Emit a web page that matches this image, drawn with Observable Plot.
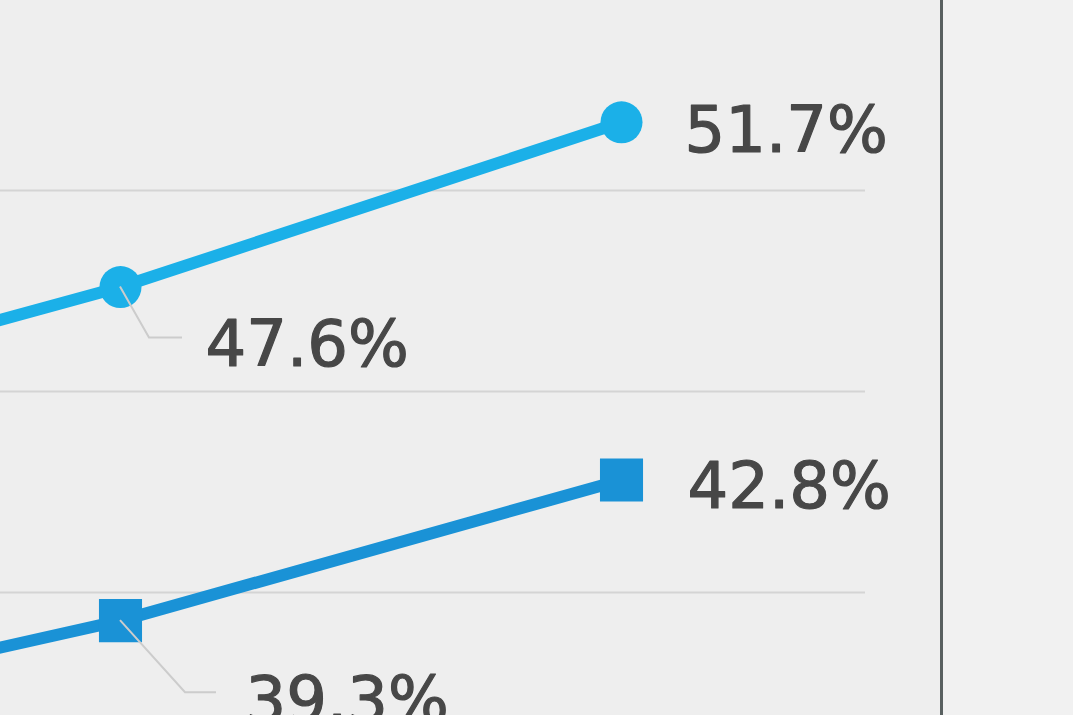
<!DOCTYPE html>
<html>
<head>
<meta charset="utf-8">
<script src="https://cdn.jsdelivr.net/npm/d3@7"></script>
<script src="https://cdn.jsdelivr.net/npm/@observablehq/plot@0.6"></script>
<style>
  html, body { margin: 0; padding: 0; overflow: hidden; background: #eeeeee; }
  #wrap { display: flex; width: 1073px; height: 715px; }
  #chart svg { display: block; overflow: hidden; }
  #side { flex: 1; height: 715px; background: #f1f1f1; border-left: 3px solid #596060; box-sizing: border-box; }
</style>
</head>
<body>
<div id="wrap"><div id="chart"></div><div id="side"></div></div>
<script>
// Period index (period 0 lies off the left edge of the photo; value estimated from the line slope)
const periods = [0, 1, 2];
const circleValues = [44.2, 47.6, 51.7];
const squareValues = [36.5, 39.3, 42.8];
const gridTicks = [40, 45, 50];

const circleData = periods.map((p, i) => ({p, v: circleValues[i], label: circleValues[i].toFixed(1) + "%"}));
const squareData = periods.map((p, i) => ({p, v: squareValues[i], label: squareValues[i].toFixed(1) + "%"}));

const cCircle = "#1bb0e8";
const cSquare = "#1a92d6";
const textColor = "#474747";
const font = "DejaVu Sans";

// Leader lines drawn in pixel space from the labelled point
function leader(datum, elbow, end) {
  return (index, scales) => {
    const x = scales.x(datum.p), y = scales.y(datum.v);
    const g = d3.create("svg:path")
      .attr("d", `M${x},${y}L${x + elbow[0]},${y + elbow[1]}L${x + end[0]},${y + end[1]}`)
      .attr("fill", "none")
      .attr("stroke", "#cccccc")
      .attr("stroke-width", 2);
    return g.node();
  };
}

const textOpts = {x: "p", y: "v", text: "label", textAnchor: "start", lineAnchor: "bottom",
  fontSize: 64, fontFamily: font, fill: textColor, stroke: textColor, strokeWidth: 1.2};

const plot = Plot.plot({
  width: 940,
  height: 715,
  marginLeft: 0, marginRight: 0, marginTop: 0, marginBottom: 0,
  style: {background: "#eeeeee", overflow: "hidden"},
  x: {type: "linear", domain: [0.7605, 2.6367], axis: null},
  y: {domain: [36.94, 54.73], axis: null},
  marks: [
    Plot.ruleY(gridTicks, {x1: 0.7605, x2: 2.487, stroke: "#d4d4d4", strokeWidth: 2}),
    Plot.line(circleData, {x: "p", y: "v", stroke: cCircle, strokeWidth: 12}),
    Plot.line(squareData, {x: "p", y: "v", stroke: cSquare, strokeWidth: 12}),
    Plot.dot(circleData.slice(1), {x: "p", y: "v", r: 21, symbol: "circle", fill: cCircle}),
    Plot.dot(squareData.slice(1), {x: "p", y: "v", r: 24.3, symbol: "square", fill: cSquare}),
    leader(circleData[1], [29, 51], [62, 51]),
    leader(squareData[1], [65, 72], [96, 72]),
    Plot.text([circleData[2]], {...textOpts, dx: 63, dy: 30}),
    Plot.text([squareData[2]], {...textOpts, dx: 66, dy: 28}),
    Plot.text([circleData[1]], {...textOpts, dx: 85, dy: 79}),
    Plot.text([squareData[1]], {...textOpts, dx: 125, dy: 101})
  ]
});
document.getElementById("chart").appendChild(plot);
</script>
</body>
</html>
